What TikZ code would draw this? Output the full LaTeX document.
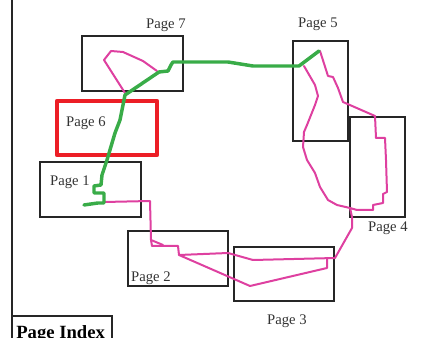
\documentclass[tikz,border=0pt]{standalone}
\usepackage{fontspec}
\setmainfont{Liberation Serif}
\usepackage{xcolor,tikz}
\usetikzlibrary{calc}
\definecolor{trailgreen}{RGB}{57,172,72}
\definecolor{trailpink}{RGB}{222,64,160}
\definecolor{hotred}{RGB}{236,30,38}
\tikzset{
  pagebox/.style={draw=black!85,line width=1.1pt},
  redbox/.style={draw=hotred,line width=3.3pt,line join=round},
  pagelbl/.style={text=black!80,font=\fontsize{11}{13}\selectfont,inner sep=0pt},
  greentrail/.style={trailgreen,line width=2.6pt,line join=round,line cap=round},
  pinktrail/.style={trailpink,line width=1.5pt,line join=round,line cap=round}
}

\begin{document}
\begin{tikzpicture}[x=0.75pt,y=-0.75pt]
\useasboundingbox (0,0) rectangle (425,338);
\clip (0,0) rectangle (425,338);
% frame line and index tab
\draw[black!85,line width=1.1pt] (12,-5)--(12,345);
\draw[pagebox] (12,345)--(12,316)--(112,316)--(112,345);
\node[font=\bfseries\fontsize{14}{16}\selectfont,anchor=base west,inner sep=0pt] (idx) at (16,339){Page Index};
% page boxes
\draw[pagebox] (82,36) rectangle (183,91);
\draw[redbox] (57,101) rectangle (157,155);
\draw[pagebox] (40,162) rectangle (141,217);
\draw[pagebox] (128,231) rectangle (228,286);
\draw[pagebox] (234,247) rectangle (334,301);
\draw[pagebox] (350,117) rectangle (405,217);
\draw[pagebox] (293,41) rectangle (348,141);
\node[pagelbl] (l7) at (166,25){Page 7};
\node[pagelbl] (l6) at (86,123){Page 6};
\node[pagelbl] (l1) at (70,182){Page 1};
\node[pagelbl] (l2) at (151,278){Page 2};
\node[pagelbl] (l3) at (287,321){Page 3};
\node[pagelbl] (l4) at (388,228){Page 4};
\node[pagelbl] (l5) at (318,24){Page 5};
% pink trail
\draw[pinktrail] (104,202)--(150,201)--(151,240)--(152,246)--(178,246)--(179,255)
  --(228,253)--(253,260)--(335,258)--(352,228)--(352,217)--(350,208)--(357,210)
  --(373,210)--(373,205)--(383,203)--(383,194)--(387,192)--(386,160)--(385,138)
  --(376,138)--(375,116)--(343,102)--(338,88)--(333,77)--(328,76)--(320,51);
\draw[pinktrail] (151,240)--(163,245);
\draw[pinktrail] (179,255)--(250,286)--(327,268)--(327,258);
\draw[pinktrail] (304,66)--(315,85)--(318,96)--(315,105)--(307,125)--(304,132)
  --(303,147)--(307,160)--(315,173)--(320,187)--(328,200)--(337,205)--(350,208);
\draw[pinktrail] (157,71)--(143,61)--(123,52)--(111,51)--(104,60)--(125,93);
% green trail
\draw[greentrail] (319,51)--(299,66)--(253,66)--(228,62)--(173,62)--(171,65)
  --(168,71)--(159,72)--(125,95)--(124,100)--(120,120)--(115,133)--(107,160)
  --(102,175)--(101,185)--(94,186)--(94,193)--(104,193)--(104,203)--(98,203)--(84,205);
\end{tikzpicture}
\end{document}
